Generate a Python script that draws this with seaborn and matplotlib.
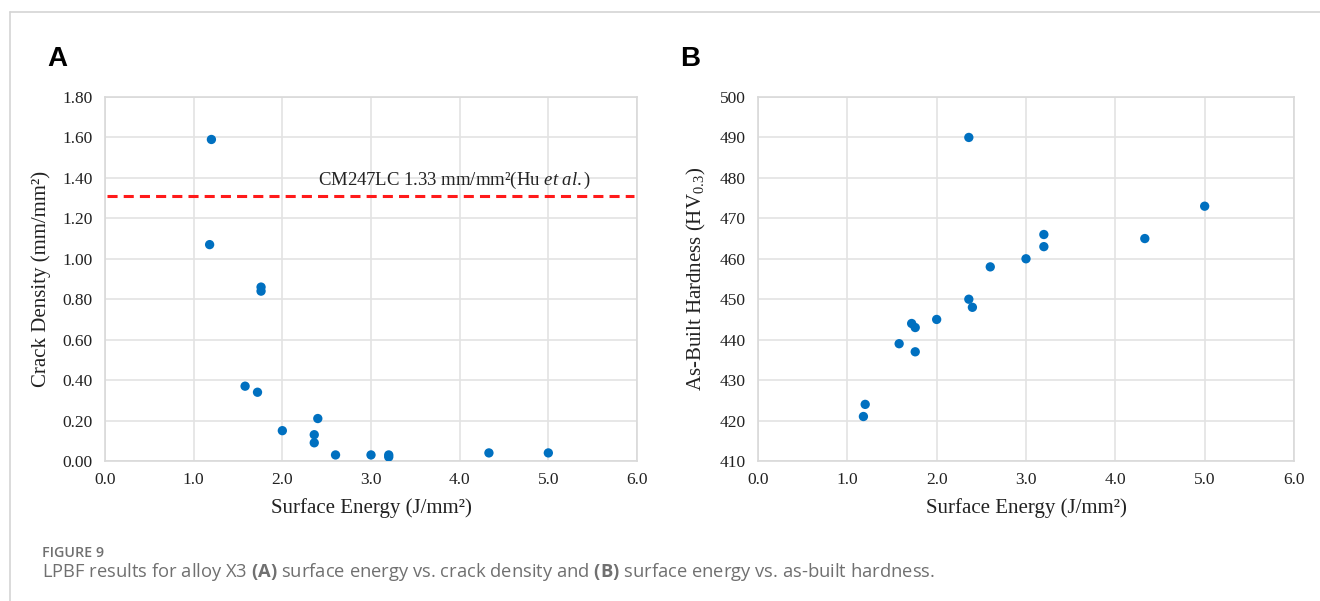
import matplotlib
matplotlib.use("Agg")
import matplotlib.pyplot as plt
import seaborn as sns
import pandas as pd
from matplotlib.lines import Line2D

# Data
energy_a = [1.20, 1.18, 1.76, 1.76, 1.58, 1.72, 2.00, 2.40, 2.36, 2.36, 2.60, 3.00, 3.20, 3.20, 4.33, 5.00]
crack_density = [1.59, 1.07, 0.86, 0.84, 0.37, 0.34, 0.15, 0.21, 0.13, 0.09, 0.03, 0.03, 0.03, 0.02, 0.04, 0.04]

energy_b = [1.18, 1.20, 1.58, 1.72, 1.76, 1.76, 2.00, 2.36, 2.40, 2.36, 2.60, 3.00, 3.20, 3.20, 4.33, 5.00]
hardness = [421, 424, 439, 444, 443, 437, 445, 450, 448, 490, 458, 460, 466, 463, 465, 473]

ref_line = 1.31
ref_label = "CM247LC 1.33 mm/mm\u00b2(Hu $\\mathit{et\\ al.}$)"

x_ticks = [0.0, 1.0, 2.0, 3.0, 4.0, 5.0, 6.0]
ya_ticks = [0.0, 0.2, 0.4, 0.6, 0.8, 1.0, 1.2, 1.4, 1.6, 1.8]
yb_ticks = [410, 420, 430, 440, 450, 460, 470, 480, 490, 500]

sns.set_theme(style="white")
plt.rcParams["font.family"] = ["Liberation Serif", "DejaVu Serif"]
plt.rcParams["mathtext.fontset"] = "custom"
plt.rcParams["mathtext.rm"] = "Liberation Serif"
plt.rcParams["mathtext.it"] = "Liberation Serif:italic"
plt.rcParams["mathtext.bf"] = "Open Sans:bold"

W, H = 1320, 601
fig = plt.figure(figsize=(W / 100, H / 100), dpi=100)
fig.patch.set_facecolor("white")

def px_axes(l, t, r, b):
    return fig.add_axes([l / W, 1 - b / H, (r - l) / W, (b - t) / H])

axA = px_axes(105, 97, 637, 461)
axB = px_axes(758, 97, 1294, 461)

blue = "#0070C0"
grid_c = "#e3e3e3"
spine_c = "#d9d9d9"

dfA = pd.DataFrame({"energy": energy_a, "crack": crack_density})
dfB = pd.DataFrame({"energy": energy_b, "hard": hardness})

sns.scatterplot(data=dfA, x="energy", y="crack", ax=axA, color=blue, s=45,
                edgecolor="none", zorder=3)
sns.scatterplot(data=dfB, x="energy", y="hard", ax=axB, color=blue, s=45,
                edgecolor="none", zorder=3)

axA.axhline(ref_line, color="#ff1a1a", lw=2.2, ls=(0, (3.3, 2.0)), zorder=2,
            xmin=0.004, xmax=0.995)
axA.text(2.40, ref_line + 0.025, ref_label, fontsize=13.5, color="#222222",
         va="bottom", ha="left")

for ax, yt, fmt in [(axA, ya_ticks, "{:.2f}"), (axB, yb_ticks, "{:d}")]:
    ax.set_xlim(0, 6)
    ax.set_xticks(x_ticks)
    ax.set_xticklabels(["{:.1f}".format(v) for v in x_ticks])
    ax.set_yticks(yt)
    ax.set_yticklabels([fmt.format(v) for v in yt])
    ax.grid(True, color=grid_c, lw=1.2)
    ax.set_axisbelow(True)
    for s in ax.spines.values():
        s.set_color(spine_c)
        s.set_linewidth(1.2)
    ax.tick_params(axis="both", length=0, labelsize=12.5, colors="#222222")
    ax.tick_params(axis="x", pad=8)
    ax.tick_params(axis="y", pad=9)
    ax.set_xlabel("Surface Energy (J/mm\u00b2)", fontsize=15, color="#222222", labelpad=7)

axA.set_ylim(0, 1.8)
axB.set_ylim(410, 500)
axA.set_ylabel("Crack Density (mm/mm\u00b2)", fontsize=15, color="#222222", labelpad=8)
axB.set_ylabel("As-Built Hardness (HV$_{0.3}$)", fontsize=15, color="#222222", labelpad=8)

# Panel letters
fig.text(47 / W, 1 - 66 / H, "A", fontsize=20, fontweight="bold",
         family=["Liberation Sans", "DejaVu Sans"], color="black")
fig.text(680 / W, 1 - 66 / H, "B", fontsize=20, fontweight="bold",
         family=["Liberation Sans", "DejaVu Sans"], color="black")

# Caption
fig.text(42 / W, 1 - 557 / H, "FIGURE 9", fontsize=10.3, fontweight="semibold",
         family=["Open Sans", "DejaVu Sans"], color="#707070")
fig.text(42 / W, 1 - 577 / H,
         "LPBF results for alloy X3 $\\mathbf{(A)}$ surface energy vs. crack density and "
         "$\\mathbf{(B)}$ surface energy vs. as-built hardness.",
         fontsize=13.2, family=["Open Sans", "DejaVu Sans"], color="#707070")

# Frame lines
fig.add_artist(Line2D([10 / W, 10 / W], [0, 1 - 12 / H], color="#d4d4d4", lw=1.2,
                      transform=fig.transFigure))
fig.add_artist(Line2D([10 / W, 1], [1 - 12 / H, 1 - 12 / H], color="#d4d4d4", lw=1.2,
                      transform=fig.transFigure))

fig.savefig("out.png", dpi=100)
